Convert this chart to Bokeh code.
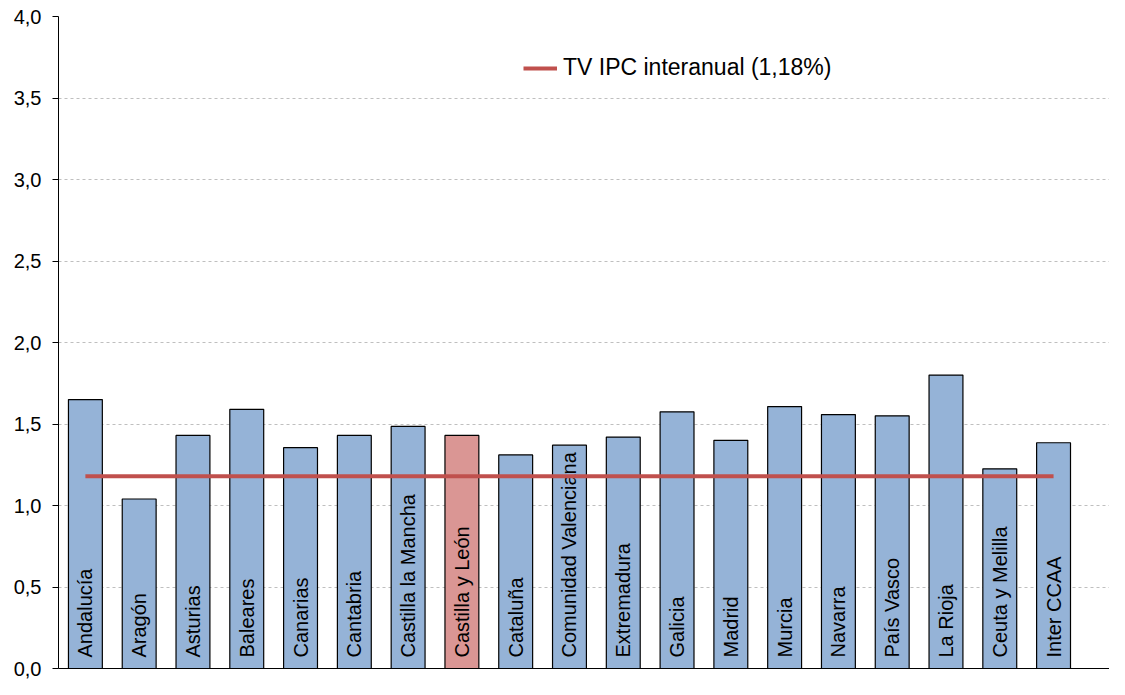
from bokeh.plotting import figure
from bokeh.models import ColumnDataSource, Range1d, FixedTicker, CustomJSTickFormatter, Legend, LegendItem
from bokeh.core.properties import value
from bokeh.embed import file_html
from bokeh.resources import INLINE
import math

categories = ["Andalucía", "Aragón", "Asturias", "Baleares", "Canarias", "Cantabria",
              "Castilla la Mancha", "Castilla y León", "Cataluña", "Comunidad Valenciana",
              "Extremadura", "Galicia", "Madrid", "Murcia", "Navarra", "País Vasco",
              "La Rioja", "Ceuta y Melilla", "Inter CCAA"]
values = [1.65, 1.04, 1.43, 1.59, 1.355, 1.43, 1.485, 1.43, 1.31, 1.37,
          1.42, 1.575, 1.40, 1.607, 1.558, 1.55, 1.80, 1.225, 1.385]
highlight = "Castilla y León"
ipc_value = 1.18
ipc_label = "TV IPC interanual (1,18%)"
y_ticks = [0.0, 0.5, 1.0, 1.5, 2.0, 2.5, 3.0, 3.5, 4.0]

BLUE = "#95B3D7"
PINK = "#DA9694"
RED = "#C0504D"
FONT = "Liberation Sans"

xs = list(range(len(categories)))
colors = [PINK if c == highlight else BLUE for c in categories]
src = ColumnDataSource(dict(x=xs, top=values, color=colors, name=categories))

p = figure(width=1109, height=679, output_backend="svg", toolbar_location=None,
           x_range=Range1d(-0.5, 19.04), y_range=Range1d(0, 4.0))
p.min_border_left = 58
p.min_border_top = 16
p.min_border_bottom = 11
p.min_border_right = 0
p.outline_line_color = None
p.background_fill_color = "white"

p.vbar(x="x", top="top", width=0.63, bottom=0, fill_color="color",
       line_color="black", line_width=1.2, source=src)

p.text(x="x", y=0, text="name", source=src, angle=math.pi / 2, y_offset=-11,
       text_align="left", text_baseline="middle", text_font=value(FONT),
       text_font_size="20px", text_color="black")

ln = p.line(x=[xs[0], xs[-1]], y=[ipc_value, ipc_value], line_color=RED, line_width=4)

# Y axis
p.yaxis.ticker = FixedTicker(ticks=y_ticks)
p.yaxis.formatter = CustomJSTickFormatter(code="return tick.toFixed(1).replace('.', ',');")
p.yaxis.major_label_text_font = FONT
p.yaxis.major_label_text_font_size = "20px"
p.yaxis.major_label_text_color = "black"
p.yaxis.major_tick_out = 6
p.yaxis.major_tick_in = 0
p.yaxis.minor_tick_out = 0
p.yaxis.minor_tick_in = 0
p.yaxis.major_label_standoff = 11
p.yaxis.axis_line_color = "black"
p.yaxis.major_tick_line_color = "black"

# X axis: line only
p.xaxis.ticker = FixedTicker(ticks=[])
p.xaxis.major_label_text_font_size = "0px"
p.xaxis.major_tick_out = 0
p.xaxis.major_tick_in = 0
p.xaxis.minor_tick_out = 0
p.xaxis.minor_tick_in = 0
p.xaxis.axis_line_color = "black"
p.xaxis.major_label_standoff = 0

p.xgrid.visible = False
p.ygrid.grid_line_color = "#BFBFBF"
p.ygrid.grid_line_dash = "3 3"
p.ygrid.grid_line_width = 1

legend = Legend(items=[LegendItem(label=ipc_label, renderers=[ln])],
                location=(465, 587), padding=0, margin=0, spacing=0,
                border_line_color=None, background_fill_alpha=0,
                glyph_width=34, glyph_height=26, label_height=26,
                label_standoff=6, label_text_font=FONT, label_text_font_size="23px",
                label_text_color="black")
p.add_layout(legend, "center")

open("out.html", "w").write(file_html(p, INLINE))
